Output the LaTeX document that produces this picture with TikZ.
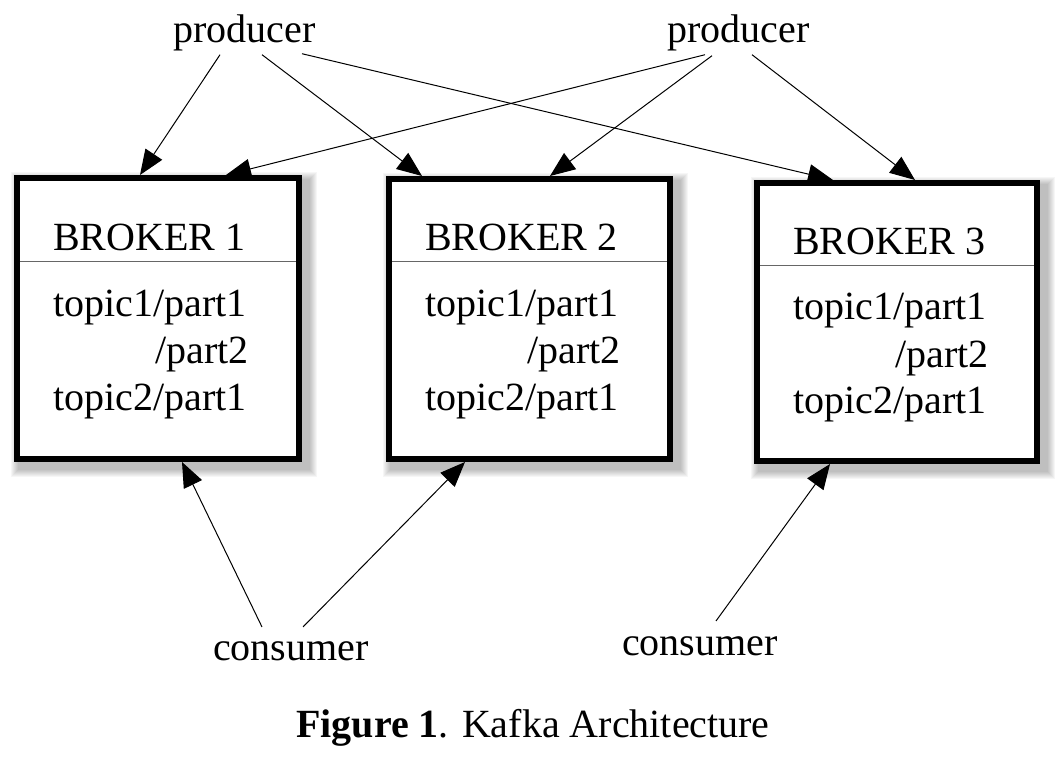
\documentclass[tikz,border=0pt]{standalone}
\usepackage{fontspec}
\setmainfont{Liberation Serif}
\usetikzlibrary{arrows.meta}
\pgfdeclarelayer{bg}
\pgfsetlayers{bg,main}
\begin{document}
\begin{tikzpicture}[x=1pt,y=-1pt,
  txt/.style={inner sep=0pt, anchor=base west, font=\fontsize{40}{47}\selectfont},
  broker/.style={draw, line width=6pt, fill=white, inner sep=0pt},
  divider/.style={draw=black!60, line width=0.8pt, shorten <=6pt, shorten >=6pt},
  conn/.style={line width=1pt, -{Triangle[length=25pt,width=20pt]}},
  shade/.style={fill=black, opacity=0.035}]
\useasboundingbox (0,0) rectangle (1064,765);

% brokers
\node[broker, minimum width=282pt, minimum height=281pt] (b1) at (158,318.5) {};
\node[broker, minimum width=281pt, minimum height=280pt] (b2) at (529.5,319) {};
\node[broker, minimum width=280pt, minimum height=278pt] (b3) at (897,322) {};

\begin{pgfonlayer}{bg}
\foreach \b in {b1,b2,b3}{
  \foreach \k in {0,...,7}{
    \fill[shade] ([xshift=4pt-\k pt, yshift=-4pt+\k pt]\b.north west)
      rectangle ([xshift=8pt+\k pt, yshift=-8pt-\k pt]\b.south east);
  }
}
\end{pgfonlayer}

\draw[divider] ([yshift=-86pt]b1.north west) -- ([yshift=-86pt]b1.north east);
\draw[divider] ([yshift=-85pt]b2.north west) -- ([yshift=-85pt]b2.north east);
\draw[divider] ([yshift=-85pt]b3.north west) -- ([yshift=-85pt]b3.north east);

% broker texts
\node[txt] (b1h) at (53,250) {BROKER 1};
\node[txt] (b1a) at (53,316) {topic1/part1};
\node[txt] (b1b) at (155,363) {/part2};
\node[txt] (b1c) at (53,410) {topic2/part1};

\node[txt] (b2h) at (425,250) {BROKER 2};
\node[txt] (b2a) at (425,316) {topic1/part1};
\node[txt] (b2b) at (527,363) {/part2};
\node[txt] (b2c) at (425,410) {topic2/part1};

\node[txt] (b3h) at (793,254) {BROKER 3};
\node[txt] (b3a) at (793,319) {topic1/part1};
\node[txt] (b3b) at (895,367) {/part2};
\node[txt] (b3c) at (793,413) {topic2/part1};

% producers and consumers
\node[txt] (p1) at (173,43) {producer};
\node[txt] (p2) at (667,43) {producer};
\node[txt] (c1) at (213,660) {consumer};
\node[txt] (c2) at (622,655) {consumer};

% caption
\node[txt] (cap) at (296,737) {\textbf{Figure 1}. Kafka Architecture};

% arrow tips on brokers
\coordinate (t11) at ([xshift=126pt]b1.north west);
\coordinate (t12) at ([xshift=212pt]b1.north west);
\coordinate (t21) at ([xshift=36pt]b2.north west);
\coordinate (t22) at ([xshift=164pt]b2.north west);
\coordinate (t31) at ([xshift=79pt]b3.north west);
\coordinate (t32) at ([xshift=161pt]b3.north west);
\coordinate (u1) at ([xshift=168pt]b1.south west);
\coordinate (u2) at ([xshift=79pt]b2.south west);
\coordinate (u3) at ([xshift=76pt]b3.south west);

% producer arrows
\draw[conn] ([xshift=47pt,yshift=-3pt]p1.south west) -- (t11);
\draw[conn] ([xshift=89pt,yshift=-3pt]p1.south west) -- (t21);
\draw[conn] ([xshift=129pt,yshift=-2pt]p1.south west) -- (t31);
\draw[conn] ([xshift=38pt,yshift=-3pt]p2.south west) -- (t12);
\draw[conn] ([xshift=45pt,yshift=-4pt]p2.south west) -- (t22);
\draw[conn] ([xshift=85pt,yshift=-3pt]p2.south west) -- (t32);

% consumer arrows
\draw[conn] ([xshift=49pt,yshift=14pt]c1.north west) -- (u1);
\draw[conn] ([xshift=90pt,yshift=14pt]c1.north west) -- (u2);
\draw[conn] ([xshift=94pt,yshift=15pt]c2.north west) -- (u3);
\end{tikzpicture}
\end{document}
